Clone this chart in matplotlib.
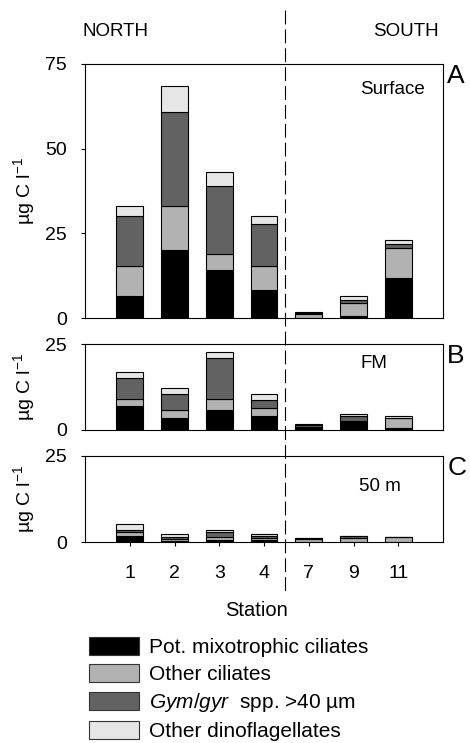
import matplotlib
matplotlib.use('Agg')
import matplotlib.pyplot as plt
from matplotlib.patches import Patch
from matplotlib.lines import Line2D

plt.rcParams['font.family'] = ['Liberation Sans', 'DejaVu Sans']
plt.rcParams['mathtext.fontset'] = 'custom'
plt.rcParams['mathtext.rm'] = 'Liberation Sans'
plt.rcParams['mathtext.it'] = 'Liberation Sans:italic'

# Stations (categories)
stations = ['1', '2', '3', '4', '7', '9', '11']

# Surface (panel A)
surf_mixo = [6.6, 20.2, 14.3, 8.4, 0.1, 0.5, 11.9]
surf_cil = [8.7, 12.8, 4.5, 6.9, 1.2, 3.9, 8.8]
surf_gym = [14.7, 27.7, 20.1, 12.5, 0.1, 1.0, 1.2]
surf_dino = [3.0, 7.7, 4.1, 2.2, 0.4, 1.2, 1.1]

# FM (panel B)
fm_mixo = [7.0, 3.5, 5.8, 4.1, 0.7, 2.4, 0.7]
fm_cil = [2.1, 2.2, 3.3, 2.2, 0.2, 0.1, 2.7]
fm_gym = [6.0, 4.7, 11.8, 2.4, 0.5, 1.6, 0.1]
fm_dino = [1.7, 1.8, 1.8, 1.7, 0.3, 0.5, 0.5]

# 50 m (panel C)
m50_mixo = [1.7, 0.4, 0.7, 0.6, 0.05, 0.0, 0.0]
m50_cil = [1.2, 0.6, 0.9, 0.75, 1.0, 1.35, 1.6]
m50_gym = [0.7, 0.5, 1.5, 0.45, 0.15, 0.45, 0.0]
m50_dino = [1.6, 0.8, 0.5, 0.5, 0.0, 0.0, 0.05]

group_labels = ['Pot. mixotrophic ciliates', 'Other ciliates',
                r'$\it{Gym/gyr}$  spp. >40 µm', 'Other dinoflagellates']
colors = ['#000000', '#b2b2b2', '#626262', '#e6e6e6']

panels = [
    ('Surface', 'A', [surf_mixo, surf_cil, surf_gym, surf_dino], [0, 25, 50, 75], 75),
    ('FM', 'B', [fm_mixo, fm_cil, fm_gym, fm_dino], [0, 25], 25),
    ('50 m', 'C', [m50_mixo, m50_cil, m50_gym, m50_dino], [0, 25], 25),
]
# axes boxes in figure fraction: left, bottom, width, height
boxes = [(0.1809, 0.572, 0.7617, 0.3419),
         (0.1809, 0.4213, 0.7617, 0.1153),
         (0.1809, 0.2701, 0.7617, 0.1166)]
tag_pos = [(0.86, 0.90), (0.807, 0.78), (0.824, 0.64)]

fig = plt.figure(figsize=(4.7, 7.43), dpi=100)
x = range(len(stations))

for i, (tag, letter, series, yt, ymax) in enumerate(panels):
    ax = fig.add_axes(boxes[i])
    bottom = [0.0] * len(stations)
    for vals, c in zip(series, colors):
        ax.bar(x, vals, width=0.6, bottom=bottom, color=c,
               edgecolor='black', linewidth=0.8)
        bottom = [b + v for b, v in zip(bottom, vals)]
    ax.set_xlim(-1, 7)
    ax.set_ylim(0, ymax)
    ax.set_yticks(yt)
    ax.tick_params(axis='y', direction='out', length=3, width=0.8,
                   pad=10, labelsize=14)
    ax.set_ylabel(r'µg C l$^{-1}$', fontsize=14)
    ax.yaxis.set_label_coords(-0.135, 0.5)
    for s in ax.spines.values():
        s.set_linewidth(0.8)
    if i < 2:
        ax.set_xticks([])
    else:
        ax.set_xticks(list(x))
        ax.set_xticklabels(stations)
        ax.tick_params(axis='x', direction='out', length=3, width=0.8,
                       pad=13, labelsize=14)
    ax.text(tag_pos[i][0], tag_pos[i][1], tag, transform=ax.transAxes,
            ha='center', va='center', fontsize=13.5)
    ax.text(1.012, 1.0, letter, transform=ax.transAxes, ha='left',
            va='top', fontsize=19)

# divider between north and south stations
fig.add_artist(Line2D([285.3 / 470, 285.3 / 470], [1 - 10 / 743, 1 - 591 / 743],
                      transform=fig.transFigure, color='black', lw=0.8,
                      linestyle=(0, (12.5, 4.5))))

fig.text(83 / 470, 1 - 32 / 743, 'NORTH', ha='left', va='center', fontsize=13.5)
fig.text(439 / 470, 1 - 32 / 743, 'SOUTH', ha='right', va='center', fontsize=13.5)
fig.text(257 / 470, 1 - 610 / 743, 'Station', ha='center', va='center', fontsize=14.5)

handles = [Patch(facecolor=c, edgecolor='#333333', linewidth=0.8) for c in colors]
fig.legend(handles, group_labels, loc='upper left',
           bbox_to_anchor=(89 / 470, 1 - 637 / 743), frameon=False,
           fontsize=15, handlelength=2.4, handleheight=0.92,
           handletextpad=0.5, labelspacing=0.34, borderpad=0,
           borderaxespad=0)

fig.savefig('out.png', dpi=100)
